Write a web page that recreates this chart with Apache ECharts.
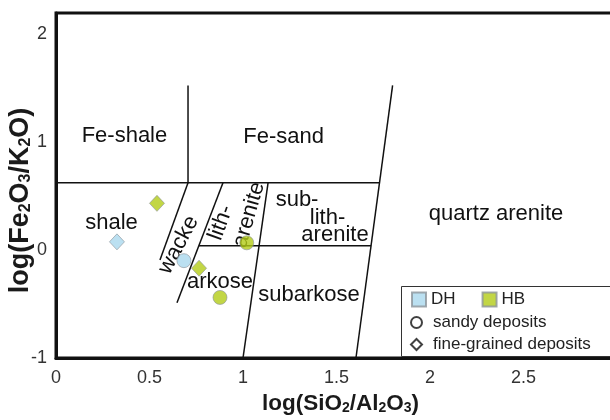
<!DOCTYPE html>
<html><head><meta charset="utf-8">
<script src="https://cdn.jsdelivr.net/npm/echarts@6/dist/echarts.min.js"></script>
<style>html,body{margin:0;padding:0;background:#fff}#c{width:610px;height:420px}</style>
</head><body><div id="c"></div>
<script>
// ---- tick labels ----
const xTicks = [0, 0.5, 1, 1.5, 2, 2.5];
const yTicks = [-1, 0, 1, 2];

// ---- sample values: [log(SiO2/Al2O3), log(Fe2O3/K2O)] ----
const dhSandy = [[0.684, -0.10]];
const dhFine  = [[0.326, 0.074]];
const hbSandy = [[1.02, 0.065], [0.877, -0.44]];
const hbFine  = [[0.54, 0.43], [0.765, -0.17]];

// ---- classification field boundaries (Herron 1988), data coordinates ----
const boundaryFe      = [[0, 0.62], [1.73, 0.62]];
const boundaryShale   = [[0.706, 0.62], [0.706, 1.52]];
const boundaryQuartz  = [[1.604, -1], [1.80, 1.52]];
const boundarySub     = [[1.0, -1], [1.134, 0.62]];
const boundaryWacke1  = [[0.706, 0.62], [0.556, -0.093]];
const boundaryWacke2  = [[0.893, 0.62], [0.647, -0.49]];
const boundaryLith    = [[0.765, 0.037], [1.685, 0.037]];
const boundaries = [boundaryFe, boundaryShale, boundaryQuartz, boundarySub, boundaryWacke1, boundaryWacke2, boundaryLith];

// ---- field names ----
const fieldNames = ['Fe-shale', 'Fe-sand', 'shale', 'wacke', 'lith-', 'arenite', 'sub-', 'lith-', 'arenite', 'arkose', 'subarkose', 'quartz arenite'];
const fieldAnchors = [[0.366, 1.056], [1.217, 1.046], [0.297, 0.25], [0.655, 0.046], [0.882, 0.25], [1.032, 0.324], [1.289, 0.463], [1.452, 0.296], [1.492, 0.139], [0.877, -0.296], [1.353, -0.417], [2.353, 0.333]];
const fieldAngles = [0, 0, 0, 62, 70, 74, 0, 0, 0, 0, 0, 0];

const BLUE = '#aad8ee', GREEN = '#b3cc16';
const SANS = '"Liberation Sans", Arial, sans-serif';

const chart = echarts.init(document.getElementById('c'), null, {renderer: 'canvas'});

const lineSeries = boundaries.map(seg => ({
  type: 'line', data: seg, symbol: 'none', silent: true, z: 2,
  lineStyle: {color: '#111', width: 1.5}, animation: false
}));

const markerBorder = {borderColor: '#8c949a', borderWidth: 0.8};

const option = {
  animation: false,
  backgroundColor: '#fff',
  grid: {left: 56, top: 13, width: 561, height: 345, containLabel: false, outerBoundsMode: 'none',
    show: true, borderColor: '#111', borderWidth: 3, backgroundColor: 'transparent'},
  xAxis: {
    type: 'value', min: 0, max: 3, interval: 0.5,
    axisLine: {show: true, onZero: false, lineStyle: {color: '#111', width: 3}},
    axisTick: {show: false}, splitLine: {show: false},
    axisLabel: {margin: 11, fontFamily: SANS, fontSize: 18, color: '#333',
      formatter: v => xTicks.includes(v) ? String(v) : ''},
    name: 'log(SiO{s|2}/Al{s|2}O{s|3})', nameLocation: 'middle', nameGap: 34, nameMoveOverlap: false,
    nameTextStyle: {fontFamily: SANS, fontWeight: 'bold', fontSize: 22.5, color: '#1a1a1a', padding: [0, 0, 0, 8],
      rich: {s: {fontFamily: SANS, fontWeight: 'bold', fontSize: 14, color: '#1a1a1a', verticalAlign: 'bottom'}}}
  },
  yAxis: {
    type: 'value', min: -1, max: 2.19, interval: 1,
    axisLine: {show: true, onZero: false, lineStyle: {color: '#111', width: 3}},
    axisTick: {show: false}, splitLine: {show: false},
    axisLabel: {margin: 9, fontFamily: SANS, fontSize: 18, color: '#333',
      formatter: v => yTicks.includes(v) ? String(v) : ''},
    name: 'log(Fe{s|2}O{s|3}/K{s|2}O)', nameLocation: 'middle', nameGap: 22, nameMoveOverlap: false,
    nameTextStyle: {fontFamily: SANS, fontWeight: 'bold', fontSize: 27, color: '#1a1a1a', padding: [0, 30, 0, 0],
      rich: {s: {fontFamily: SANS, fontWeight: 'bold', fontSize: 16, color: '#1a1a1a', verticalAlign: 'bottom'}}}
  },
  legend: [
    {data: [{name: 'DH', icon: 'rect'}, {name: 'HB', icon: 'rect'}], orient: 'horizontal',
     left: 411, top: 291, itemWidth: 14, itemHeight: 14, itemGap: 26, padding: 0, z: 10,
     selectedMode: false, textStyle: {fontFamily: SANS, fontSize: 17, color: '#222'}},
    {data: [{name: 'sandy deposits', icon: 'circle'}, {name: 'fine-grained deposits', icon: 'diamond'}], orient: 'vertical',
     left: 410, top: 314, itemWidth: 11, itemHeight: 11, itemGap: 5, padding: 0, z: 10,
     selectedMode: false, textStyle: {fontFamily: SANS, fontSize: 17, color: '#222', padding: [0, 0, 0, 6]}}
  ],
  graphic: [{type: 'rect', z: 5, shape: {x: 401.5, y: 286.5, width: 260, height: 70},
    style: {fill: '#fff', stroke: '#333', lineWidth: 1}}],
  series: [
    ...lineSeries,
    {type: 'scatter', silent: true, z: 3, symbol: 'circle', symbolSize: 1, itemStyle: {color: '#fff', opacity: 1},
     data: fieldNames.map((n, i) => ({name: n, value: fieldAnchors[i],
       label: {rotate: fieldAngles[i]}})),
     label: {show: true, position: 'inside', formatter: p => p.name, fontFamily: SANS, fontSize: 22,
       color: '#111', opacity: 1, textBorderWidth: 0}},
    {name: 'DH', type: 'scatter', z: 4, symbol: 'circle', symbolSize: 14, data: dhSandy, itemStyle: {color: BLUE, ...markerBorder}},
    {name: 'DH', type: 'scatter', z: 4, symbol: 'diamond', symbolSize: [15, 16], data: dhFine, itemStyle: {color: BLUE, ...markerBorder}},
    {name: 'HB', type: 'scatter', z: 4, symbol: 'circle', symbolSize: 14, data: hbSandy, itemStyle: {color: GREEN, ...markerBorder}},
    {name: 'HB', type: 'scatter', z: 4, symbol: 'diamond', symbolSize: [15, 16], data: hbFine, itemStyle: {color: GREEN, ...markerBorder}},
    {name: 'sandy deposits', type: 'scatter', data: [], symbol: 'circle', itemStyle: {color: '#fff', borderColor: '#111', borderWidth: 1.3}},
    {name: 'fine-grained deposits', type: 'scatter', data: [], symbol: 'diamond', itemStyle: {color: '#fff', borderColor: '#111', borderWidth: 1.3}}
  ]
};
chart.setOption(option);
</script>
</body></html>
